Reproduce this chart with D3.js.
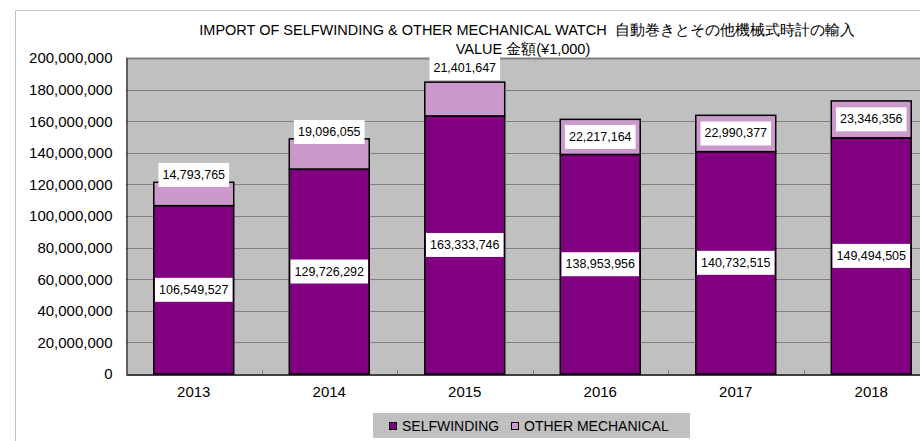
<!DOCTYPE html>
<html>
<head>
<meta charset="utf-8">
<script src="https://cdn.jsdelivr.net/npm/d3@7"></script>
<style>
  body { margin: 0; background: #fff; }
  svg { display: block; font-family: "Liberation Sans", Arial, sans-serif; }
</style>
</head>
<body>
<div id="chart"></div>
<script>
// data
const YEARS = ["2013", "2014", "2015", "2016", "2017", "2018"];
const SELFWINDING = [106549527, 129726292, 163333746, 138953956, 140732515, 149494505];
const OTHER_MECH = [14793765, 19096055, 21401647, 22217164, 22990377, 23346356];
const Y_TICKS = [0, 20000000, 40000000, 60000000, 80000000, 100000000, 120000000,
                 140000000, 160000000, 180000000, 200000000];
const SERIES_NAMES = ["SELFWINDING", "OTHER MECHANICAL"];

// setting up constants
const WIDTH = 920, HEIGHT = 441;
const PLOT = {left: 126, right: 939, top: 58, bottom: 374};
const COLORS = ["#800080", "#cc99cc"];
// manual nudges of the top labels (px), as in the original sheet
const TOP_LABEL_NUDGE = [-19, -22, -31, 0, 0, 0];

const svg = d3.select("#chart").append("svg")
    .attr("width", WIDTH)
    .attr("height", HEIGHT);

// outer chart frame
svg.append("path")
    .attr("d", "M15.5," + HEIGHT + "V10.5H" + WIDTH)
    .attr("fill", "none")
    .attr("stroke", "#c0c0c0");

const x = d3.scaleBand()
    .domain(YEARS)
    .range([PLOT.left, PLOT.right])
    .paddingInner(0.41)
    .paddingOuter(0.205);

const y = d3.scaleLinear()
    .domain([0, 200000000])
    .range([PLOT.bottom, PLOT.top]);

// plot background
svg.append("rect")
    .attr("x", PLOT.left).attr("y", PLOT.top)
    .attr("width", PLOT.right - PLOT.left)
    .attr("height", PLOT.bottom - PLOT.top)
    .attr("fill", "#c0c0c0");

// gridlines
svg.append("g").selectAll("line")
    .data(Y_TICKS.slice(1))
    .join("line")
    .attr("x1", PLOT.left).attr("x2", PLOT.right)
    .attr("y1", d => Math.round(y(d)) + 0.5)
    .attr("y2", d => Math.round(y(d)) + 0.5)
    .attr("stroke", "#808080")
    .attr("stroke-width", d => d === 200000000 ? 2 : 1);

// y axis
const yAxis = svg.append("g")
    .attr("transform", "translate(" + (PLOT.left + 0.5) + ",0)")
    .call(d3.axisLeft(y).tickValues(Y_TICKS).tickFormat(d3.format(",")).tickSize(0).tickPadding(14));
yAxis.select(".domain").attr("stroke", "#000");
yAxis.selectAll("text").attr("font-size", 15).attr("fill", "#000")
    .attr("font-family", "'Liberation Sans', Arial, sans-serif");

// x axis
const xAxis = svg.append("g")
    .attr("transform", "translate(0," + (PLOT.bottom + 0.5) + ")")
    .call(d3.axisBottom(x).tickSize(0).tickPadding(12));
xAxis.select(".domain").attr("stroke", "#000").attr("stroke-width", 1.5);
xAxis.selectAll("text").attr("font-size", 15).attr("fill", "#000")
    .attr("font-family", "'Liberation Sans', Arial, sans-serif");

// small category separators on x axis
svg.append("g").selectAll("line")
    .data(YEARS.slice(1))
    .join("line")
    .attr("x1", d => Math.round(x(d) - x.step() * 0.205) + 0.5)
    .attr("x2", d => Math.round(x(d) - x.step() * 0.205) + 0.5)
    .attr("y1", PLOT.bottom - 4).attr("y2", PLOT.bottom)
    .attr("stroke", "#808080");

// stacked bars
const rows = YEARS.map((yr, i) => ({year: yr, a: SELFWINDING[i], b: OTHER_MECH[i]}));
const stack = d3.stack().keys(["a", "b"])(rows);

svg.append("g").selectAll("g")
    .data(stack)
    .join("g")
    .attr("fill", (d, i) => COLORS[i])
    .selectAll("rect")
    .data(d => d)
    .join("rect")
    .attr("x", d => x(d.data.year))
    .attr("y", d => y(d[1]))
    .attr("width", x.bandwidth())
    .attr("height", d => y(d[0]) - y(d[1]))
    .attr("stroke", "#000")
    .attr("stroke-width", 1.5);

// value labels
const fmt = d3.format(",");
stack.forEach((layer, li) => {
    const g = svg.append("g");
    layer.forEach((d, i) => {
        const cx = x(d.data.year) + x.bandwidth() / 2;
        let cy = (y(d[0]) + y(d[1])) / 2;
        if (li === 1) cy += TOP_LABEL_NUDGE[i];
        const t = g.append("text")
            .attr("x", cx).attr("y", cy)
            .attr("text-anchor", "middle")
            .attr("dominant-baseline", "central")
            .attr("font-size", 12.5)
            .attr("fill", "#000")
            .text(fmt(d[1] - d[0]));
        const bb = t.node().getBBox();
        g.insert("rect", "text")
            .attr("x", bb.x - 4).attr("y", cy - 12)
            .attr("width", bb.width + 8).attr("height", 24)
            .attr("fill", "#fff");
    });
});

// title
const title = svg.append("text")
    .attr("text-anchor", "middle")
    .attr("font-size", 14.5)
    .attr("fill", "#000")
    .style("white-space", "pre");
title.append("tspan").attr("x", 527).attr("y", 35)
    .text("IMPORT OF SELFWINDING & OTHER MECHANICAL WATCH  自動巻きとその他機械式時計の輸入");
title.append("tspan").attr("x", 523).attr("y", 54).text("VALUE 金額(¥1,000)");

// legend
const legend = svg.append("g");
legend.append("rect")
    .attr("x", 373).attr("y", 413).attr("width", 317).attr("height", 25)
    .attr("fill", "#c0c0c0");
const LEGEND_X = [389, 511];
SERIES_NAMES.forEach((name, i) => {
    legend.append("rect")
        .attr("x", LEGEND_X[i] + 0.5).attr("y", 422.5)
        .attr("width", 7).attr("height", 7)
        .attr("fill", COLORS[i]).attr("stroke", "#000");
    legend.append("text")
        .attr("x", LEGEND_X[i] + 13).attr("y", 431)
        .attr("font-size", 14).attr("fill", "#000")
        .text(name);
});
</script>
</body>
</html>
